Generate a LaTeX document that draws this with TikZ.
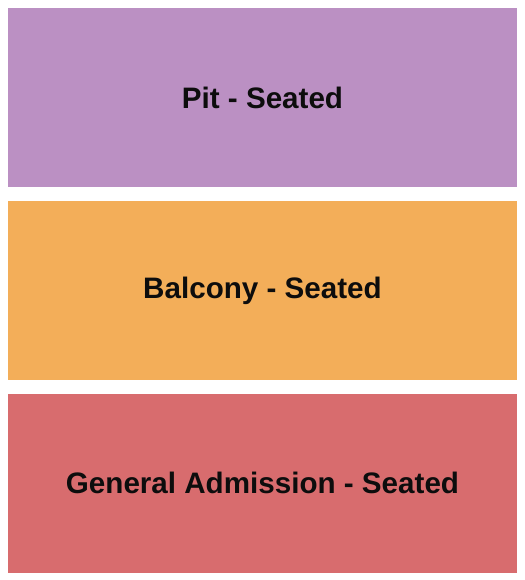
\documentclass[tikz,border=0pt]{standalone}
\usepackage{fontspec}
\setmainfont{Liberation Sans}
\usetikzlibrary{positioning}
\definecolor{pitcol}{RGB}{187,144,195}
\definecolor{balcol}{RGB}{243,174,89}
\definecolor{gencol}{RGB}{216,108,110}
\tikzset{
	section/.style={minimum width=509bp, minimum height=179bp, inner sep=0pt,
		font=\fontsize{29.6bp}{34bp}\selectfont\bfseries, text=black!95}
}
\begin{document}
\begin{tikzpicture}[x=1bp,y=-1bp]
	\useasboundingbox (0,0) rectangle (525,580);
	\node [section, fill=pitcol] (pit) at (262.5,97.5) {Pit - Seated};
	\node [section, fill=balcol, below=14bp of pit] (balcony) {Balcony - Seated};
	\node [section, fill=gencol, below=13bp of balcony] (general) {General Admission - Seated};
\end{tikzpicture}
\end{document}
